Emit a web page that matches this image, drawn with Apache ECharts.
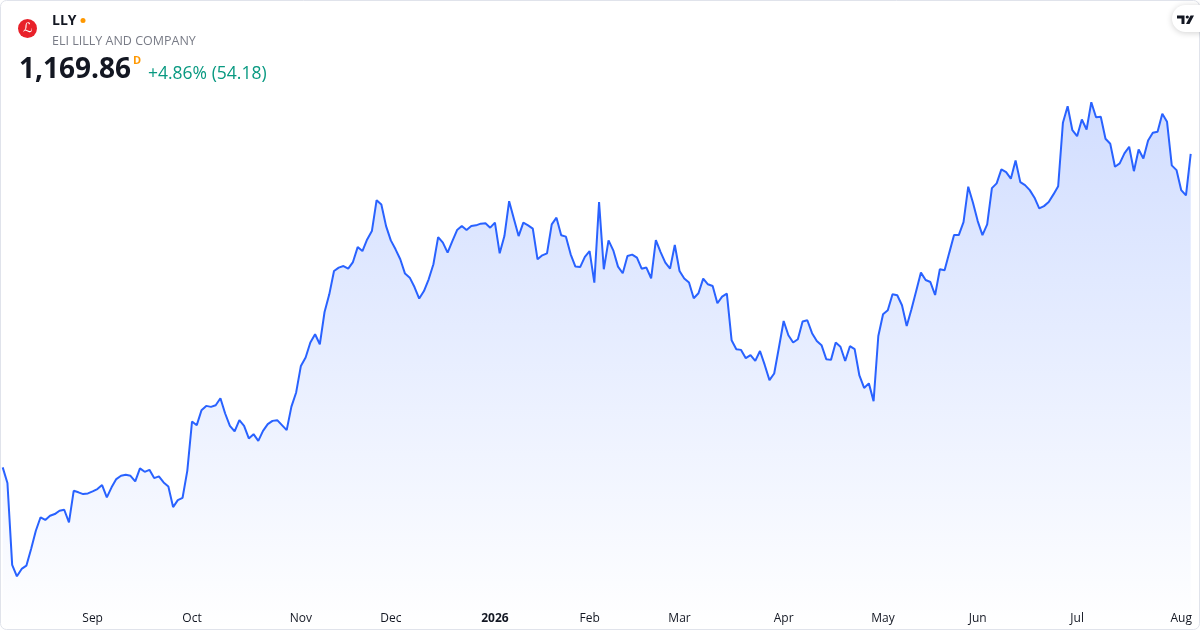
<!DOCTYPE html>
<html>
<head>
<meta charset="utf-8">
<script src="https://cdn.jsdelivr.net/npm/echarts@6/dist/echarts.min.js"></script>
<style>
html,body{margin:0;padding:0;background:#fff;}
#c{width:1200px;height:630px;}
</style>
</head>
<body>
<div id="c"></div>
<script>
// ---- data ----
const symbol = 'LLY';
const companyName = 'ELI LILLY AND COMPANY';
const lastPrice = '1,169.86';
const changeText = '+4.86% (54.18)';
const intervalBadge = 'D';

const startDate = '2025-08-05';
const endDate = '2026-08-05';
const holidays = ['2025-09-01','2025-11-27','2025-12-25','2026-01-01','2026-01-19',
  '2026-02-16','2026-04-03','2026-05-25','2026-06-19','2026-07-03'];
const monthLabels = ['2026','Feb','Mar','Apr','May','Jun','Jul','Aug','Sep','Oct','Nov','Dec'];

const prices = [
  761.7, 741.3, 634.7, 619.9, 629.5, 633.7, 655.5, 679.2, 696.7, 693.2,
  698.7, 700.9, 705.2, 706.5, 690.2, 731.2, 729.2, 726.9, 727.8, 730.5,
  733.4, 738.6, 722.7, 735.7, 746.4, 750.7, 752.0, 750.7, 743.5, 760.4,
  755.9, 758.5, 747.7, 749.9, 742.1, 736.9, 710.0, 719.1, 722.1, 757.2,
  821.4, 816.6, 836.1, 841.7, 840.4, 842.6, 851.7, 831.8, 815.7, 808.4,
  823.1, 815.7, 799.3, 804.9, 796.2, 809.2, 817.9, 822.2, 823.1, 816.6,
  810.1, 840.7, 859.2, 893.7, 904.6, 924.2, 934.9, 921.9, 963.9, 986.9,
  1017.2, 1021.7, 1023.7, 1020.3, 1028.9, 1048.4, 1043.2, 1058.4, 1069.2, 1109.5,
  1103.9, 1075.7, 1057.1, 1045.5, 1032.5, 1013.9, 1008.6, 996.4, 981.4, 991.2,
  1006.5, 1026.0, 1061.4, 1054.2, 1041.2, 1056.2, 1070.5, 1075.7, 1070.5, 1075.7,
  1076.7, 1078.9, 1079.3, 1073.7, 1080.2, 1040.3, 1062.7, 1108.2, 1085.4, 1062.7,
  1080.2, 1076.7, 1072.4, 1032.5, 1037.7, 1040.3, 1078.0, 1086.7, 1063.7, 1062.0,
  1039.0, 1023.0, 1022.4, 1035.7, 1043.2, 1002.2, 1107.0, 1019.5, 1057.2, 1044.2,
  1023.0, 1014.3, 1036.8, 1038.6, 1034.7, 1020.3, 1021.7, 1007.8, 1057.6, 1041.9,
  1028.2, 1020.3, 1051.1, 1017.2, 1007.4, 1002.2, 981.8, 988.3, 1007.4, 1000.0,
  997.7, 975.3, 984.0, 987.9, 927.2, 915.5, 914.6, 903.8, 907.7, 900.2,
  913.2, 895.0, 875.2, 883.9, 917.7, 952.2, 933.7, 924.2, 928.5, 951.5,
  953.2, 936.3, 926.2, 920.7, 902.5, 901.6, 924.2, 918.7, 900.2, 919.4,
  915.5, 881.3, 865.1, 871.0, 847.9, 932.7, 961.0, 966.2, 987.0, 985.7,
  972.7, 945.7, 967.5, 991.2, 1015.2, 1005.5, 1002.9, 986.0, 1019.5, 1018.2,
  1041.2, 1064.0, 1064.0, 1080.9, 1127.0, 1106.2, 1082.2, 1064.0, 1078.0, 1125.1,
  1131.3, 1149.5, 1145.9, 1137.4, 1161.2, 1132.9, 1129.0, 1122.5, 1112.7, 1098.8,
  1101.7, 1107.0, 1117.0, 1127.7, 1210.1, 1231.7, 1200.5, 1192.7, 1214.5, 1201.5,
  1236.9, 1217.4, 1218.0, 1189.4, 1182.9, 1153.0, 1157.3, 1170.3, 1179.0, 1147.2,
  1175.5, 1163.8, 1187.2, 1197.2, 1198.5, 1221.9, 1211.5, 1154.7, 1148.6, 1122.5,
  1115.68, 1169.86
];

// ---- trading days ----
function tradingDays(s, e, hol) {
  const out = [];
  const hs = new Set(hol);
  const d = new Date(s + 'T00:00:00Z');
  const end = new Date(e + 'T00:00:00Z');
  while (d <= end) {
    const wd = d.getUTCDay();
    const iso = d.toISOString().slice(0, 10);
    if (wd !== 0 && wd !== 6 && !hs.has(iso)) out.push(iso);
    d.setUTCDate(d.getUTCDate() + 1);
  }
  return out;
}
const dates = tradingDays(startDate, endDate, holidays);
const monthOf = s => parseInt(s.slice(5, 7), 10);

const FONT = '"Open Sans", "Noto Sans", sans-serif';
const chart = echarts.init(document.getElementById('c'), null, {renderer: 'canvas'});

chart.setOption({
  backgroundColor: '#ffffff',
  animation: false,
  grid: {left: 2.7, right: 9.3, top: 0, bottom: 0, containLabel: false},
  xAxis: {
    type: 'category',
    data: dates,
    boundaryGap: false,
    axisLine: {show: false},
    axisTick: {show: false},
    splitLine: {show: false},
    axisLabel: {
      inside: true,
      margin: 5,
      color: '#131722',
      fontFamily: FONT,
      fontSize: 12,
      interval: (idx, val) => idx > 0 && monthOf(val) !== monthOf(dates[idx - 1]),
      formatter: (val) => {
        const m = monthOf(val);
        return m === 1 ? '{b|' + monthLabels[0] + '}' : monthLabels[m - 1];
      },
      rich: {b: {fontWeight: 'bold', fontFamily: FONT, fontSize: 12, color: '#131722'}}
    }
  },
  yAxis: {
    type: 'value',
    show: false,
    min: 550,
    max: 1370,
    splitLine: {show: false}
  },
  series: [{
    type: 'line',
    data: prices,
    symbol: 'none',
    smooth: false,
    lineStyle: {color: '#2962ff', width: 2},
    areaStyle: {
      color: new echarts.graphic.LinearGradient(0, 0, 0, 1, [
        {offset: 0, color: 'rgba(41,98,255,0.30)'},
        {offset: 1, color: 'rgba(41,98,255,0.0)'}
      ])
    }
  }],
  graphic: [
    {type: 'rect', shape: {x: 0.5, y: 0.5, width: 1199, height: 629, r: 6},
      style: {fill: 'none', stroke: '#e0e3eb', lineWidth: 1}, silent: true, z: 100},
    // logo
    {type: 'circle', shape: {cx: 27.5, cy: 28.5, r: 9.5}, style: {fill: '#e8212a'}, z: 100},
    {type: 'text', style: {x: 28, y: 28.5, text: '\u2112', fill: '#ffffff',
      font: '13px "DejaVu Sans", sans-serif', textAlign: 'center', textVerticalAlign: 'middle'}, z: 101},
    {type: 'text', style: {x: 52, y: 21.5, text: symbol, fill: '#131722',
      font: 'bold 14px ' + FONT, textVerticalAlign: 'middle'}, z: 100},
    {type: 'circle', shape: {cx: 83, cy: 20.5, r: 2.5}, style: {fill: '#ff9800'}, z: 100},
    {type: 'text', style: {x: 52, y: 41, text: companyName, fill: '#787b86',
      font: '12.5px ' + FONT, textVerticalAlign: 'middle'}, z: 100},
    {type: 'text', style: {x: 19, y: 70, text: lastPrice, fill: '#131722',
      font: 'bold 28px ' + FONT, textVerticalAlign: 'middle'}, z: 100},
    {type: 'text', style: {x: 133, y: 61, text: intervalBadge, fill: '#ff9800',
      font: 'bold 11px ' + FONT, textVerticalAlign: 'middle'}, z: 100},
    {type: 'text', style: {x: 148, y: 74, text: changeText, fill: '#089981',
      font: '17.5px ' + FONT, textVerticalAlign: 'middle'}, z: 100},
    // TV badge
    {type: 'rect', shape: {x: 1172, y: 5, width: 44, height: 27, r: 13.5},
      style: {fill: '#ffffff', shadowBlur: 6, shadowColor: 'rgba(0,0,0,0.18)', shadowOffsetY: 1}, z: 100},
    {type: 'polygon', shape: {points: [[1177,15.5],[1184.5,15.5],[1184.5,24],[1181.5,24],[1181.5,18.5],[1177,18.5]]},
      style: {fill: '#131722'}, z: 101},
    {type: 'circle', shape: {cx: 1187.3, cy: 17, r: 1.6}, style: {fill: '#131722'}, z: 101},
    {type: 'polygon', shape: {points: [[1190.5,15.5],[1194,15.5],[1189.5,24],[1186,24]]},
      style: {fill: '#131722'}, z: 101}
  ]
});
</script>
</body>
</html>
